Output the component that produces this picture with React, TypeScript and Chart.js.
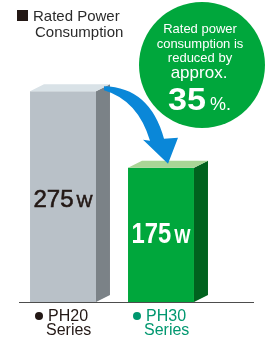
import React, { useEffect, useRef } from 'react';
import { Chart, registerables } from 'chart.js';

Chart.register(...registerables);

const categories = ['PH20', 'PH30'];
const categorySub = ['Series', 'Series'];
const values = [275, 175];
const valueUnit = 'W';
const frontColors = ['#b9c1c8', '#00a73c'];
const sideColors = ['#7b8287', '#00621e'];
const topColors = ['#d9e2e7', '#a9d596'];
const valueTextColors = ['#231815', '#ffffff'];
const labelColors = ['#231815', '#00976f'];
const legendLines = ['Rated Power', 'Consumption'];
const calloutLines = ['Rated power', 'consumption is', 'reduced by'];
const calloutApprox = 'approx.';
const calloutPct = '35';
const yMax = 300;

const FONT = '"Liberation Sans", Arial, Helvetica, sans-serif';

// per-bar value text styling
const numWeights = ['normal', 'bold'];
const numSizes = [24, 29];
const unitSizes = [17, 21];
const textScaleX = [1, 0.82];
const textOffsetY = [10.5, 8.5];
const textStroke = [0.6, 0];

const decoPlugin = {
  id: 'deco',
  beforeDatasetsDraw(chart: any) {
    const ctx = chart.ctx;
    ctx.save();
    // legend
    ctx.fillStyle = '#231815';
    ctx.fillRect(17, 10, 11, 11);
    ctx.fillStyle = '#2b2b2b';
    ctx.font = `15px ${FONT}`;
    ctx.textAlign = 'left';
    ctx.textBaseline = 'alphabetic';
    ctx.fillText(legendLines[0], 33, 21);
    ctx.fillText(legendLines[1], 35, 37);
    // callout circle
    ctx.fillStyle = '#00a73c';
    ctx.beginPath();
    ctx.arc(202, 65, 63, 0, Math.PI * 2);
    ctx.fill();
    ctx.fillStyle = '#ffffff';
    ctx.textAlign = 'center';
    ctx.font = `13px ${FONT}`;
    ctx.fillText(calloutLines[0], 200, 33);
    ctx.fillText(calloutLines[1], 200, 48);
    ctx.fillText(calloutLines[2], 200, 62);
    ctx.font = `17px ${FONT}`;
    ctx.fillText(calloutApprox, 199, 78);
    // 35%.
    ctx.textAlign = 'left';
    ctx.save();
    ctx.translate(168, 110);
    ctx.scale(1.1, 1);
    ctx.font = `bold 31px ${FONT}`;
    ctx.fillText(calloutPct, 0, 0);
    ctx.restore();
    ctx.font = `18px ${FONT}`;
    ctx.fillText('%.', 210, 110);
    ctx.restore();
  },
  afterDatasetsDraw(chart: any) {
    const ctx = chart.ctx;
    const meta = chart.getDatasetMeta(0);
    const base = chart.scales.y.getPixelForValue(0);
    const dx = 14;
    const dy = 7;
    ctx.save();
    const geo: any[] = [];
    meta.data.forEach((bar: any, i: number) => {
      const p = bar.getProps(['x', 'y', 'width'], true);
      const l = p.x - p.width / 2;
      const r = p.x + p.width / 2;
      const y = p.y;
      geo.push({ l, r, y, x: p.x });
      ctx.fillStyle = sideColors[i];
      ctx.beginPath();
      ctx.moveTo(r, y);
      ctx.lineTo(r + dx, y - dy);
      ctx.lineTo(r + dx, base - dy);
      ctx.lineTo(r, base);
      ctx.closePath();
      ctx.fill();
      ctx.fillStyle = topColors[i];
      ctx.beginPath();
      ctx.moveTo(l, y);
      ctx.lineTo(l + dx, y - dy);
      ctx.lineTo(r + dx, y - dy);
      ctx.lineTo(r, y);
      ctx.closePath();
      ctx.fill();

      // value text
      const numSize = numSizes[i];
      const unitSize = unitSizes[i];
      const sx = textScaleX[i];
      const weight = numWeights[i];
      ctx.font = `${weight} ${numSize}px ${FONT}`;
      const numText = String(values[i]);
      const numW = ctx.measureText(numText).width * sx;
      ctx.font = `${weight} ${unitSize}px ${FONT}`;
      const unitW = ctx.measureText(valueUnit).width * sx;
      const gap = 3;
      const total = numW + gap + unitW;
      const startX = p.x - total / 2;
      const mid = (y + base) / 2;
      const baseY = mid + textOffsetY[i];
      ctx.fillStyle = valueTextColors[i];
      ctx.strokeStyle = valueTextColors[i];
      ctx.lineWidth = textStroke[i];
      ctx.textAlign = 'left';
      ctx.textBaseline = 'alphabetic';
      ctx.save();
      ctx.translate(startX, baseY);
      ctx.scale(sx, 1);
      ctx.font = `${weight} ${numSize}px ${FONT}`;
      ctx.fillText(numText, 0, 0);
      if (textStroke[i] > 0) ctx.strokeText(numText, 0, 0);
      ctx.restore();
      ctx.save();
      ctx.translate(startX + numW + gap, baseY);
      ctx.scale(sx, 1);
      ctx.font = `${weight} ${unitSize}px ${FONT}`;
      ctx.fillText(valueUnit, 0, 0);
      if (textStroke[i] > 0) ctx.strokeText(valueUnit, 0, 0);
      ctx.restore();

      // category labels
      ctx.fillStyle = labelColors[i];
      ctx.beginPath();
      ctx.arc(p.x - 24, base + 14, 4, 0, Math.PI * 2);
      ctx.fill();
      ctx.font = `16px ${FONT}`;
      ctx.fillText(categories[i], p.x - 15, base + 19);
      ctx.fillText(categorySub[i], p.x - 17, base + 33);
    });

    // baseline
    ctx.strokeStyle = '#4d4d4d';
    ctx.lineWidth = 1;
    ctx.beginPath();
    ctx.moveTo(19, Math.round(base) + 0.5);
    ctx.lineTo(254, Math.round(base) + 0.5);
    ctx.stroke();

    // arrow
    if (geo.length === 2) {
      const r1 = geo[0].r;
      const t1 = geo[0].y;
      const l2 = geo[1].l;
      const t2 = geo[1].y;
      ctx.fillStyle = '#0a87d8';
      ctx.beginPath();
      ctx.moveTo(r1 + 8, t1 - 5);
      ctx.quadraticCurveTo(r1 + 54, t1 - 4, l2 + 36, t2 - 29);
      ctx.lineTo(l2 + 50, t2 - 30);
      ctx.lineTo(l2 + 40, t2 - 4);
      ctx.lineTo(l2 + 15, t2 - 28);
      ctx.lineTo(l2 + 22, t2 - 27);
      ctx.quadraticCurveTo(r1 + 42, t1 + 9, r1 + 8, t1 - 1);
      ctx.closePath();
      ctx.fill();
    }
    ctx.restore();
  },
};

export default function App() {
  const ref = useRef<HTMLCanvasElement | null>(null);
  useEffect(() => {
    if (!ref.current) return;
    const chart = new Chart(ref.current, {
      type: 'bar',
      data: {
        labels: categories,
        datasets: [
          {
            data: values,
            backgroundColor: frontColors,
            borderWidth: 0,
            barPercentage: 0.673,
            categoryPercentage: 1,
          },
        ],
      },
      options: {
        animation: false,
        responsive: false,
        devicePixelRatio: 1,
        layout: { padding: { left: 14, right: 57, top: 72, bottom: 38 } },
        plugins: { legend: { display: false }, tooltip: { enabled: false } },
        scales: {
          x: { display: false },
          y: { display: false, min: 0, max: yMax },
        },
      },
      plugins: [decoPlugin],
    } as any);
    return () => chart.destroy();
  }, []);
  return (
    <div style={{ position: 'absolute', left: 0, top: 0, width: 267, height: 340, background: '#fff' }}>
      <canvas ref={ref} width={267} height={340} style={{ width: 267, height: 340 }} />
    </div>
  );
}
